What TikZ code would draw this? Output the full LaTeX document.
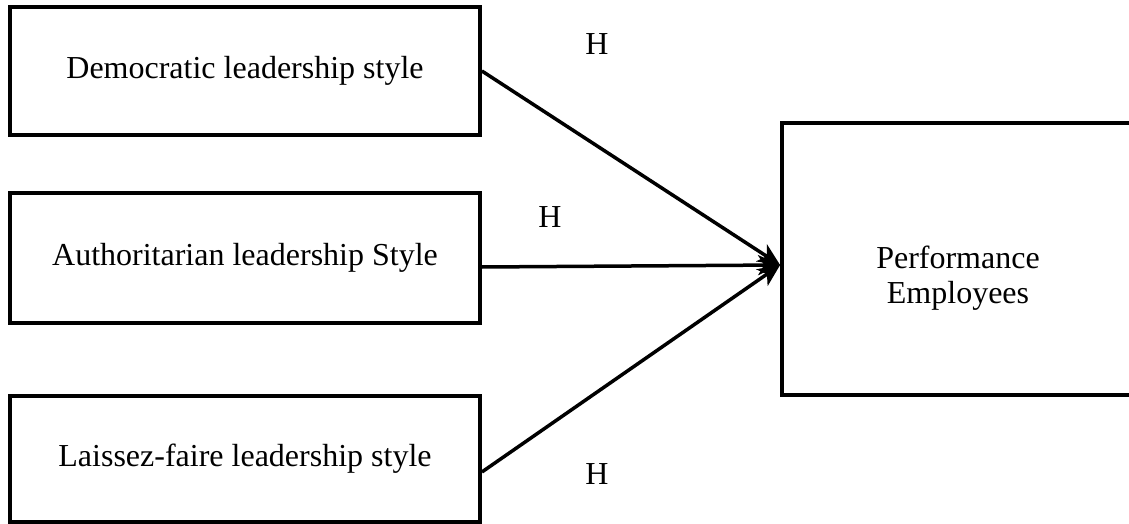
\documentclass[tikz,border=0pt]{standalone}
\usepackage{fontspec}
\setmainfont{Liberation Serif}
\usetikzlibrary{arrows.meta}

\begin{document}
\begin{tikzpicture}[x=0.5pt,y=-0.5pt,
  box/.style={draw,line width=1.9pt,align=center,inner sep=0pt,
    font=\fontsize{16}{17.5}\selectfont},
  link/.style={line width=1.75pt,-{Stealth[length=11pt,width=10pt,inset=3pt]}},
  hyp/.style={font=\fontsize{16}{17.5}\selectfont}]
\useasboundingbox (0,0) rectangle (1129,524);
\clip (0,0) rectangle (1129,524);

\node[box,minimum width=235pt,minimum height=64pt] (demo) at (245,71) {Democratic leadership style};
\node[box,minimum width=235pt,minimum height=65pt] (auth) at (245,258) {Authoritarian leadership Style};
\node[box,minimum width=235pt,minimum height=63pt] (laissez) at (245,459) {Laissez-faire leadership style};
\node[box,minimum width=176pt,minimum height=136pt] (perf) at (958,259) {};
\node[hyp,align=center] (perftext) at ([yshift=-9.5pt]perf.center) {Performance\\Employees};

\coordinate (tip) at ([yshift=-3pt]perf.west);

\draw[link] (demo.east) -- (tip);
\draw[link] ([yshift=-4.5pt]auth.east) -- (tip);
\draw[link] ([yshift=-6.5pt]laissez.east) -- (tip);

\node[hyp] (h1) at (597,44) {H};
\node[hyp] (h2) at (550,217) {H};
\node[hyp] (h3) at (597,474) {H};
\end{tikzpicture}
\end{document}
